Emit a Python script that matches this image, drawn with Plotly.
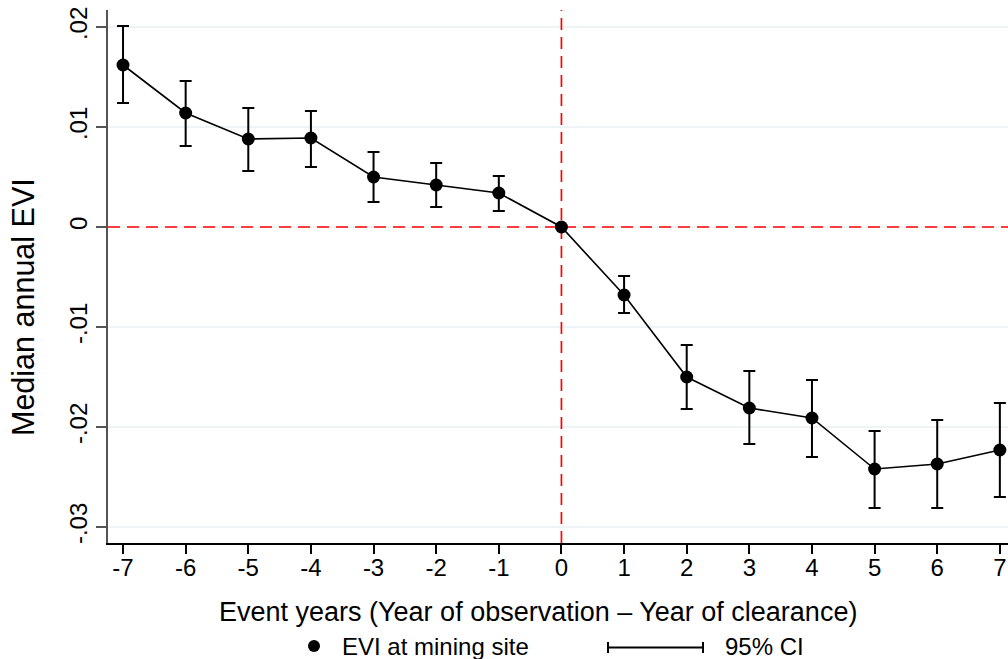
import plotly.graph_objects as go

event_years = [-7, -6, -5, -4, -3, -2, -1, 0, 1, 2, 3, 4, 5, 6, 7]
evi = [0.0162, 0.0114, 0.0088, 0.0089, 0.0050, 0.0042, 0.0034, 0.0,
       -0.0068, -0.0150, -0.0181, -0.0191, -0.0242, -0.0237, -0.0223]
ci_upper = [0.0201, 0.0146, 0.0119, 0.0116, 0.0075, 0.0064, 0.0051, 0.0,
            -0.0049, -0.0118, -0.0144, -0.0153, -0.0204, -0.0193, -0.0176]
ci_lower = [0.0124, 0.0081, 0.0056, 0.0060, 0.0025, 0.0020, 0.0016, 0.0,
            -0.0086, -0.0182, -0.0217, -0.0230, -0.0281, -0.0281, -0.0270]
x_tick_labels = [str(v) for v in event_years]
y_ticks = [0.02, 0.01, 0.0, -0.01, -0.02, -0.03]
y_tick_labels = [".02", ".01", "0", "-.01", "-.02", "-.03"]

err_plus = [u - v for u, v in zip(ci_upper, evi)]
err_minus = [v - l for v, l in zip(evi, ci_lower)]

FONT = "Liberation Sans, Arial, sans-serif"

# plot area in pixels: x 108..1008, y 10..543
PX = lambda px: (px - 108) / 900
PY = lambda py: (543 - py) / 533

fig = go.Figure()

# gridlines (drawn as shapes so the red reference lines sit above them)
for yv in y_ticks:
    fig.add_hline(y=yv, line=dict(color="#e9f0f3", width=1.5), layer="below")

fig.add_hline(y=0, line=dict(color="#ff0000", width=1.7, dash="12px,7px"), layer="below")
fig.add_vline(x=0, line=dict(color="#ff0000", width=1.7, dash="12px,7px"), layer="below")

fig.add_trace(go.Scatter(
    x=event_years, y=evi, mode="lines+markers",
    line=dict(color="black", width=1.6),
    marker=dict(color="black", size=13),
    error_y=dict(type="data", array=err_plus, arrayminus=err_minus,
                 color="black", thickness=2, width=6),
    showlegend=False, cliponaxis=False, hoverinfo="skip",
))

# axis titles
fig.add_annotation(xref="paper", yref="paper", x=PX(538), y=PY(612),
                   text="Event years (Year of observation \u2013 Year of clearance)",
                   showarrow=False, xanchor="center", yanchor="middle",
                   font=dict(family=FONT, size=27, color="black"))
fig.add_annotation(xref="paper", yref="paper", x=PX(23), y=PY(307), textangle=-90,
                   text="Median annual EVI",
                   showarrow=False, xanchor="center", yanchor="middle",
                   font=dict(family=FONT, size=30.5, color="black"))

# legend (drawn manually, Stata style)
fig.add_shape(type="circle", xref="paper", yref="paper",
              x0=PX(308), x1=PX(320), y0=PY(640), y1=PY(652),
              fillcolor="black", line=dict(color="black", width=0))
fig.add_annotation(xref="paper", yref="paper", x=PX(340), y=PY(646),
                   text="EVI at mining site", showarrow=False, xanchor="left", yanchor="middle",
                   font=dict(family=FONT, size=24, color="black"))
fig.add_shape(type="line", xref="paper", yref="paper",
              x0=PX(608), x1=PX(703), y0=PY(647.5), y1=PY(647.5),
              line=dict(color="black", width=2))
for xp in (608, 703):
    fig.add_shape(type="line", xref="paper", yref="paper",
                  x0=PX(xp), x1=PX(xp), y0=PY(642), y1=PY(653),
                  line=dict(color="black", width=2))
fig.add_annotation(xref="paper", yref="paper", x=PX(723), y=PY(646),
                   text="95% CI", showarrow=False, xanchor="left", yanchor="middle",
                   font=dict(family=FONT, size=24, color="black"))

fig.update_layout(
    width=1008, height=659,
    margin=dict(l=108, r=0, t=10, b=116, autoexpand=False),
    paper_bgcolor="white", plot_bgcolor="white",
    font=dict(family=FONT, size=24, color="black"),
    hovermode=False,
    xaxis=dict(
        range=[-7.24, 7.13], tickmode="array", tickvals=event_years, ticktext=x_tick_labels,
        ticks="outside", ticklen=9, tickwidth=1.5, tickcolor="black",
        showline=True, linecolor="black", linewidth=1.5,
        showgrid=False, zeroline=False, automargin=False,
        tickfont=dict(size=24), ticklabeloverflow="allow", ticklabelstandoff=-7,
    ),
    yaxis=dict(
        range=[-0.0316, 0.0217], tickmode="array", tickvals=y_ticks, ticktext=y_tick_labels,
        tickangle=-90,
        ticks="outside", ticklen=10, tickwidth=1.5, tickcolor="#555555",
        showline=True, linecolor="#555555", linewidth=1.5,
        showgrid=False, zeroline=False, automargin=False,
        tickfont=dict(size=24), ticklabeloverflow="allow",
    ),
)

fig.write_html(
    "out.html",
    config={"displayModeBar": False},
    post_script="document.body.style.margin='0';document.body.style.overflow='hidden';",
)
